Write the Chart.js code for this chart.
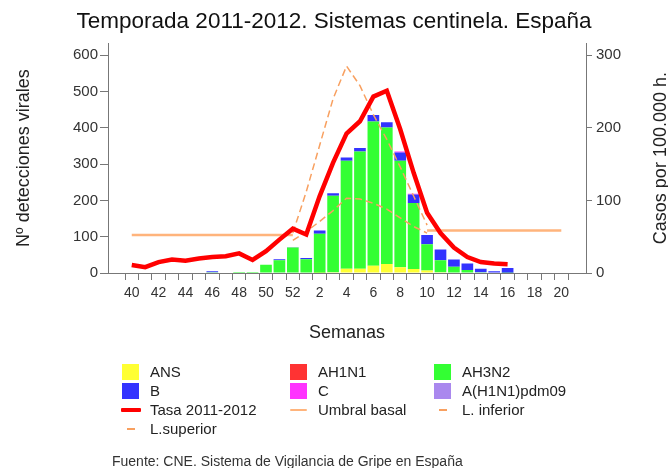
<!DOCTYPE html>
<html><head><meta charset="utf-8">
<script src="https://cdn.jsdelivr.net/npm/chart.js@4/dist/chart.umd.min.js"></script>
<style>
html,body{margin:0;padding:0;background:#fff;}
#wrap{position:relative;width:668px;height:468px;overflow:hidden;font-family:'Liberation Sans',Arial,sans-serif;}
#c{position:absolute;left:0;top:0;}
#legend{position:absolute;left:0;top:0;width:668px;height:468px;pointer-events:none;}
.lt{position:absolute;font-size:15px;color:#222;line-height:18px;white-space:nowrap;}
.sw{position:absolute;}
#foot{position:absolute;left:112px;top:453px;font-size:14px;line-height:16px;color:#333;white-space:nowrap;}
</style></head>
<body><div id="wrap"><canvas id="c" width="668" height="468"></canvas><div id="legend"></div><div id="foot">Fuente: CNE. Sistema de Vigilancia de Gripe en España</div></div>
<script>
// ---- data ----
const weeks = [40,41,42,43,44,45,46,47,48,49,50,51,52,1,2,3,4,5,6,7,8,9,10,11,12,13,14,15,16,17,18,19,20];
const leftTicks = [0,100,200,300,400,500,600];
const rightTicks = [0,100,200,300];
// detections (stacked bars, left axis)
const ans   = [0,0,0,0,0,0,0,0,0,0,0,0,0,0,1,2,12,12,20,25,16,11,7,2,0,0,0,0,0,0,0,0,0];
const ah1n1 = [0,0,0,0,0,0,0,0,0,0,0,0,0,0,0,0,0,0,0,0,0,0,0,0,0,0,0,0,0,0,0,0,0];
const ah3n2 = [0,0,0,0,0,0,2,0,3,3,23,35,70,38,107,211,297,323,397,376,293,182,72,33,17,8,2,0,1,0,0,0,0];
const fluB  = [0,0,0,0,0,0,3,0,0,0,0,3,1,3,9,7,9,9,18,14,23,23,26,30,20,18,10,5,13,0,0,0,0];
const fluC  = [0,0,0,0,0,0,0,0,0,0,0,0,0,0,0,0,0,0,0,0,3,2,0,0,0,0,0,0,0,0,0,0,0];
const pdm09 = [0,0,0,0,0,0,0,0,0,0,0,0,0,0,0,0,0,0,0,0,0,0,0,0,0,0,0,0,0,0,0,0,0];
// rates (right axis)
const tasa  = [11,8,15,18.5,17,20,22,23,27,18,30,46,61,53,106,152,192,209,243,251,198,138,83,55,35,22,15,13,12,null,null,null,null];
const umbral= [52.5,52.5,52.5,52.5,52.5,52.5,52.5,52.5,52.5,52.5,52.5,52.5,52.5,null,null,null,null,null,null,null,null,null,58.5,58.5,58.5,58.5,58.5,58.5,58.5,58.5,58.5,58.5,58.5];
const linf  = [null,null,null,null,null,null,null,null,null,null,null,null,45,57,71,86,103,102,96,88,76,64,55,null,null,null,null,null,null,null,null,null,null];
const lsup  = [null,null,null,null,null,null,null,null,null,null,null,null,55,112,176,240,285,258,218,184,146,106,66,null,null,null,null,null,null,null,null,null,null];

const FONT = "'Liberation Sans', Arial, sans-serif";
Chart.defaults.font.family = FONT;

const pts = arr => arr.map((v,i)=>({x:i, y:v}));
const barDs = (label, arr, color) => ({type:'bar', label, data:pts(arr), backgroundColor:color, borderWidth:0,
  yAxisID:'y', order:1, categoryPercentage:0.87, barPercentage:1.0});
const lineDs = (label, arr, color, width, dash, order) => ({type:'line', label, data:pts(arr), borderColor:color,
  backgroundColor:color, borderWidth:width, borderDash:dash, pointRadius:0, tension:0, fill:false, spanGaps:false,
  yAxisID:'y2', order});

const datasets = [
  barDs('ANS', ans, '#ffff33'),
  barDs('AH1N1', ah1n1, '#ff3333'),
  barDs('AH3N2', ah3n2, '#33ff33'),
  barDs('B', fluB, '#3333ff'),
  barDs('C', fluC, '#ff33ff'),
  barDs('A(H1N1)pdm09', pdm09, '#aa88ee'),
  lineDs('Tasa 2011-2012', tasa, '#ff0000', 4.5, [], -2),
  lineDs('Umbral basal', umbral, '#ffb47c', 2.5, [], 0),
  lineDs('L. inferior', linf, '#f8a060', 1.5, [7,4], 0),
  lineDs('L.superior', lsup, '#f8a060', 1.5, [7,4], 0)
];

const rightTitle = {
  id:'rightTitle',
  afterDraw(chart){
    const ctx = chart.ctx, a = chart.chartArea;
    ctx.save();
    ctx.translate(661, (a.top + a.bottom)/2);
    ctx.rotate(-Math.PI/2);
    ctx.font = "18px " + FONT;
    ctx.fillStyle = '#222';
    ctx.textAlign = 'center';
    ctx.textBaseline = 'middle';
    ctx.fillText('Casos por 100.000 h.', 0, 0);
    ctx.restore();
  }
};

const chart = new Chart(document.getElementById('c'), {
  data:{datasets},
  options:{
    responsive:false, animation:false, devicePixelRatio:1,
    layout:{padding:{left:0,right:0,top:0,bottom:122}},
    plugins:{
      legend:{display:false}, tooltip:{enabled:false},
      title:{display:true, text:'Temporada 2011-2012. Sistemas centinela. España',
        font:{size:22.5, weight:'normal'}, color:'#111', padding:{top:8,bottom:8.2}}
    },
    scales:{
      x:{type:'linear', min:-1.23, max:33.3, stacked:true,
        afterBuildTicks: s => { s.ticks = weeks.map((w,i)=>({value:i})); },
        ticks:{autoSkip:false, maxRotation:0, font:{size:14}, color:'#333', padding:5,
          callback: v => (v % 2 === 0 ? String(weeks[v]) : '')},
        grid:{drawOnChartArea:false, drawTicks:true, tickLength:7, color:'#777'},
        border:{color:'#777'},
        title:{display:true, text:'Semanas', font:{size:18}, color:'#222', padding:{top:0,bottom:2}},
        afterFit: s => { s.height = 73; }
      },
      y:{position:'left', min:0, max:633, stacked:true,
        afterBuildTicks: s => { s.ticks = leftTicks.map(v=>({value:v})); },
        ticks:{font:{size:15}, color:'#333', padding:2},
        grid:{drawOnChartArea:false, tickLength:8, color:'#777'},
        border:{color:'#777'},
        title:{display:true, text:'Nº detecciones virales', font:{size:18}, color:'#222', padding:{top:13,bottom:0}},
        afterFit: s => { s.width = 108; }
      },
      y2:{position:'right', min:0, max:316.5,
        afterBuildTicks: s => { s.ticks = rightTicks.map(v=>({value:v})); },
        ticks:{font:{size:15}, color:'#333', padding:4},
        grid:{drawOnChartArea:false, tickLength:6, color:'#777'},
        border:{color:'#777'},
        afterFit: s => { s.width = 82; }
      }
    }
  },
  plugins:[rightTitle]
});

// ---- HTML legend built from the chart's datasets (3 columns) ----
const colX = [122, 290, 434];
const rowY = [372, 391, 410, 429];
const leg = document.getElementById('legend');
chart.data.datasets.forEach((ds, i) => {
  const r = Math.floor(i/3), c = i % 3;
  const x = colX[c], y = rowY[r];
  const sw = document.createElement('div');
  sw.className = 'sw';
  if (ds.type === 'bar') {
    Object.assign(sw.style, {left:x+'px', top:(y-8)+'px', width:'17px', height:'16px', background:ds.backgroundColor});
  } else if (ds.borderDash && ds.borderDash.length) {
    Object.assign(sw.style, {left:(x+5)+'px', top:(y-1)+'px', width:'8px', height:'2px', background:ds.borderColor});
  } else {
    const h = ds.borderWidth > 3 ? 4 : 2;
    const w = ds.borderWidth > 3 ? 20 : 17;
    Object.assign(sw.style, {left:(ds.borderWidth > 3 ? x-1 : x)+'px', top:(y-h/2)+'px', width:w+'px', height:h+'px', background:ds.borderColor, borderRadius:'1px'});
  }
  leg.appendChild(sw);
  const t = document.createElement('div');
  t.className = 'lt';
  t.style.left = (x+28)+'px';
  t.style.top = (y-9)+'px';
  t.textContent = ds.label;
  leg.appendChild(t);
});
</script>
</body></html>
